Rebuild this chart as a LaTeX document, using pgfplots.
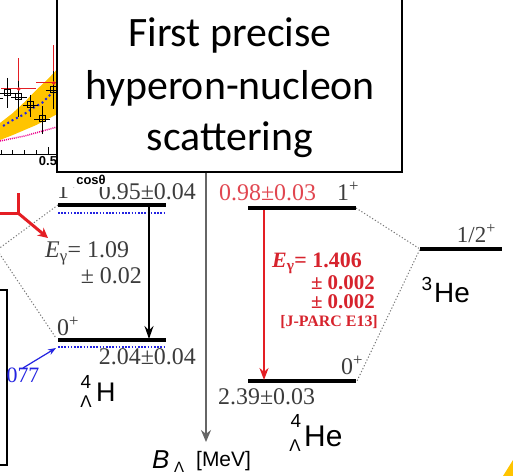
\documentclass[border=0pt]{standalone}
\usepackage{fontspec}
\usepackage{pgfplots}
\pgfplotsset{compat=1.18}
\usetikzlibrary{arrows.meta}
\setmainfont{Liberation Serif}
\newfontfamily\arial{Liberation Sans}
\newfontfamily\calibri{Carlito}
\newcommand{\fs}[1]{\fontsize{#1}{#1}\selectfont}
\definecolor{numgray}{RGB}{60,60,60}
\definecolor{lightred}{RGB}{225,70,80}
\definecolor{darkred}{RGB}{215,35,45}
\definecolor{myred}{RGB}{228,30,36}
\definecolor{myblue}{RGB}{35,35,225}
\definecolor{gold}{RGB}{255,196,0}
\definecolor{dotgray}{RGB}{120,120,120}
\begin{document}
\begin{tikzpicture}
\path[fill=white] (0,0) rectangle (513bp,476bp);
% ---- partial cross-section plot (left top) ----
\begin{axis}[at={(0bp,321bp)}, anchor=south west, width=57bp, height=155bp, scale only axis,
  xmin=0.295, xmax=0.5385, ymin=0, ymax=15.5,
  axis y line=none, axis x line=bottom, x axis line style={-, line width=1bp, black},
  xtick={0.5}, minor xtick={0.3,0.35,0.4,0.45,0.55},
  tick align=inside, major tick length=8bp, minor tick length=5bp,
  tick style={black, line width=0.9bp},
  /pgf/number format/assume math mode=true,
  xticklabel style={font=\arial\bfseries\fs{13}, inner sep=1bp},
  clip=true]
\addplot[fill=gold, draw=none] coordinates {
 (0.295,3.2) (0.35,4.2) (0.40,5.3) (0.45,6.5) (0.50,7.6) (0.54,8.6)
 (0.54,4.1) (0.50,3.6) (0.45,3.0) (0.40,2.5) (0.35,2.0) (0.295,1.5)};
\addplot[magenta, line width=1.5bp, dash pattern=on 1bp off 1bp] coordinates {
 (0.295,1.4) (0.40,1.9) (0.5385,2.8)};
\addplot[myblue, line width=2bp, dash pattern=on 2bp off 3bp] coordinates {
 (0.308,2.9) (0.350,3.5) (0.393,4.0) (0.436,4.7) (0.474,5.2) (0.509,6.0) (0.5385,6.5)};
\addplot[only marks, mark=*, mark size=1.6bp, color=myred,
  error bars/.cd, x dir=both, x explicit, y dir=both, y explicit,
  error bar style={myred, line width=1bp}, error mark=none] coordinates {
 (0.375,6.6) += (0.075,3.1) -= (0.075,0.0)
 (0.525,7.2) += (0.075,3.8) -= (0.075,0.0)};
\addplot[only marks, mark=square, mark size=3bp, black, mark options={line width=1bp},
  error bars/.cd, x dir=both, x explicit, y dir=both, y explicit,
  error bar style={black, line width=0.9bp},
  error mark options={black, mark size=2bp, line width=0.9bp}] coordinates {
 (0.275,5.7) +- (0.025,1.3)
 (0.325,6.2) +- (0.025,1.3)
 (0.375,5.8) += (0.025,1.4) -= (0.025,1.8)
 (0.425,5.0) += (0.025,0.8) -= (0.025,1.0)
 (0.475,3.6) += (0.025,1.1) -= (0.025,1.3)
 (0.525,6.5) +- (0.025,1.7)};
\end{axis}
% ---- level scheme (pixel coordinates, y downward) ----
\begin{axis}[name=ax, at={(0,0)}, anchor=south west, width=513bp, height=476bp, scale only axis,
  xmin=0, xmax=513, ymin=0, ymax=476, y dir=reverse, hide axis, clip=false]
% left box
\addplot[black, line width=2bp] coordinates {(-2,290) (7,290) (7,465) (-2,465)};
% title box
\addplot[draw=black, line width=2bp, fill=white] coordinates {(57,-10) (57,172) (402,172) (402,-10)};
\node[anchor=base, font=\calibri\fs{42}, inner sep=0] at (230,47) {First precise};
\node[anchor=base, font=\calibri\fs{42}, inner sep=0] at (230,99) {hyperon-nucleon};
\node[anchor=base, font=\calibri\fs{42}, inner sep=0] at (230,150) {scattering};
% 4LH levels
\addplot[dotgray, line width=1bp, dash pattern=on 1.2bp off 2bp] coordinates {(58,205) (-3,250) (56,338)};
\addplot[black, line width=3.5bp] coordinates {(58,205) (166,205)};
\addplot[myblue, line width=2.5bp, dash pattern=on 1.6bp off 1.6bp] coordinates {(58,213) (166,213)};
\addplot[black, line width=3.5bp] coordinates {(58,340) (166,340)};
\addplot[myblue, line width=2.5bp, dash pattern=on 1.6bp off 1.6bp] coordinates {(58,347) (166,347)};
\addplot[black, line width=1.5bp, -{Stealth[length=13bp,width=9bp]}] coordinates {(149,207) (149,339)};
\node[anchor=base west, font=\fs{24}, text=numgray, inner sep=0] at (57,198) {1\textsuperscript{+}};
\node[anchor=east, font=\fs{24}, text=numgray, inner sep=0] at (196,192) {0.95±0.04};
\addplot[fill=white, draw=none] coordinates {(57,174) (110,174) (110,187) (57,187)};
\node[font=\arial\bfseries\fs{13}, inner sep=0] at (91,180) {cosθ};
\node[anchor=west, font=\fs{24}, text=numgray, inner sep=0] at (45,253) {\textit{E}\textsubscript{γ}= 1.09};
\node[anchor=east, font=\fs{24}, text=numgray, inner sep=0] at (142,276) {± 0.02};
\node[anchor=base west, font=\fs{24}, text=numgray, inner sep=0] at (57,335) {0\textsuperscript{+}};
\node[anchor=east, font=\fs{24}, text=numgray, inner sep=0] at (196,357) {2.04±0.04};
\node[font=\arial\fs{19}, inner sep=0] at (86,382) {4};
\node[font=\arial\fs{17}, inner sep=0] at (86,402) {Λ};
\node[anchor=west, font=\arial\fs{27}, inner sep=0] at (96,392) {H};
% red arrow top-left
\addplot[myred, line width=3bp] coordinates {(-2,213) (18,213) (18,193)};
\addplot[myred, line width=3bp, -{Stealth[length=10bp,width=10bp]}] coordinates {(18,213) (48,238)};
% blue arrow + 077
\addplot[myblue, line width=1.2bp, -{Stealth[length=8bp,width=6bp]}] coordinates {(23,368) (56,348)};
\node[font=\fs{22}, text=myblue, inner sep=0] at (23,375) {077};
% B_Lambda axis
\addplot[black!60, line width=1.2bp, -{Stealth[length=12bp,width=10bp]}] coordinates {(206,173) (206,442)};
\node[anchor=west, font=\arial\itshape\fs{26}, inner sep=0] at (152,460) {B};
\node[anchor=west, font=\arial\fs{15}, inner sep=0] at (174,467) {Λ};
\node[anchor=west, font=\arial\fs{21}, inner sep=0] at (196,461) {[MeV]};
% 4LHe levels
\addplot[dotgray, line width=1bp, dash pattern=on 1.2bp off 2bp] coordinates {(356,208) (420,249) (357,381)};
\addplot[black, line width=3.5bp] coordinates {(248,208) (356,208)};
\addplot[black, line width=3.5bp] coordinates {(248,381) (356,381)};
\addplot[myred, line width=2.5bp, -{Stealth[length=12bp,width=9bp]}] coordinates {(264,210) (264,380)};
\node[anchor=west, font=\fs{24}, text=lightred, inner sep=0] at (219,193) {0.98±0.03};
\node[anchor=base west, font=\fs{24}, text=numgray, inner sep=0] at (337,200) {1\textsuperscript{+}};
\node[anchor=west, font=\bfseries\fs{22}, text=darkred, inner sep=0] at (272,263) {\textit{E}\textsubscript{γ}= 1.406};
\node[anchor=east, font=\bfseries\fs{21}, text=darkred, inner sep=0] at (375,283) {± 0.002};
\node[anchor=east, font=\bfseries\fs{21}, text=darkred, inner sep=0] at (375,302) {± 0.002};
\node[anchor=east, font=\bfseries\fs{16}, text=darkred, inner sep=0] at (378,322) {[J-PARC E13]};
\node[anchor=base west, font=\fs{24}, text=numgray, inner sep=0] at (341,374) {0\textsuperscript{+}};
\node[anchor=west, font=\fs{24}, text=numgray, inner sep=0] at (218,397) {2.39±0.03};
\node[font=\arial\fs{19}, inner sep=0] at (296,421) {4};
\node[font=\arial\fs{17}, inner sep=0] at (295,446) {Λ};
\node[anchor=west, font=\arial\fs{30}, inner sep=0] at (304,436) {He};
% 3He level
\addplot[black, line width=3.5bp] coordinates {(420,249) (502,249)};
\node[anchor=base east, font=\fs{23}, text=numgray, inner sep=0] at (496,242) {1/2\textsuperscript{+}};
\node[font=\arial\fs{19}, inner sep=0] at (427,284) {3};
\node[anchor=west, font=\arial\fs{28}, inner sep=0] at (434,293) {He};
% corner decoration
\addplot[fill=gold, draw=none] coordinates {(503,476) (513,476) (513,460)};
\end{axis}
\pgfresetboundingbox
\path[use as bounding box] (0,0) rectangle (513bp,476bp);
\end{tikzpicture}
\end{document}
